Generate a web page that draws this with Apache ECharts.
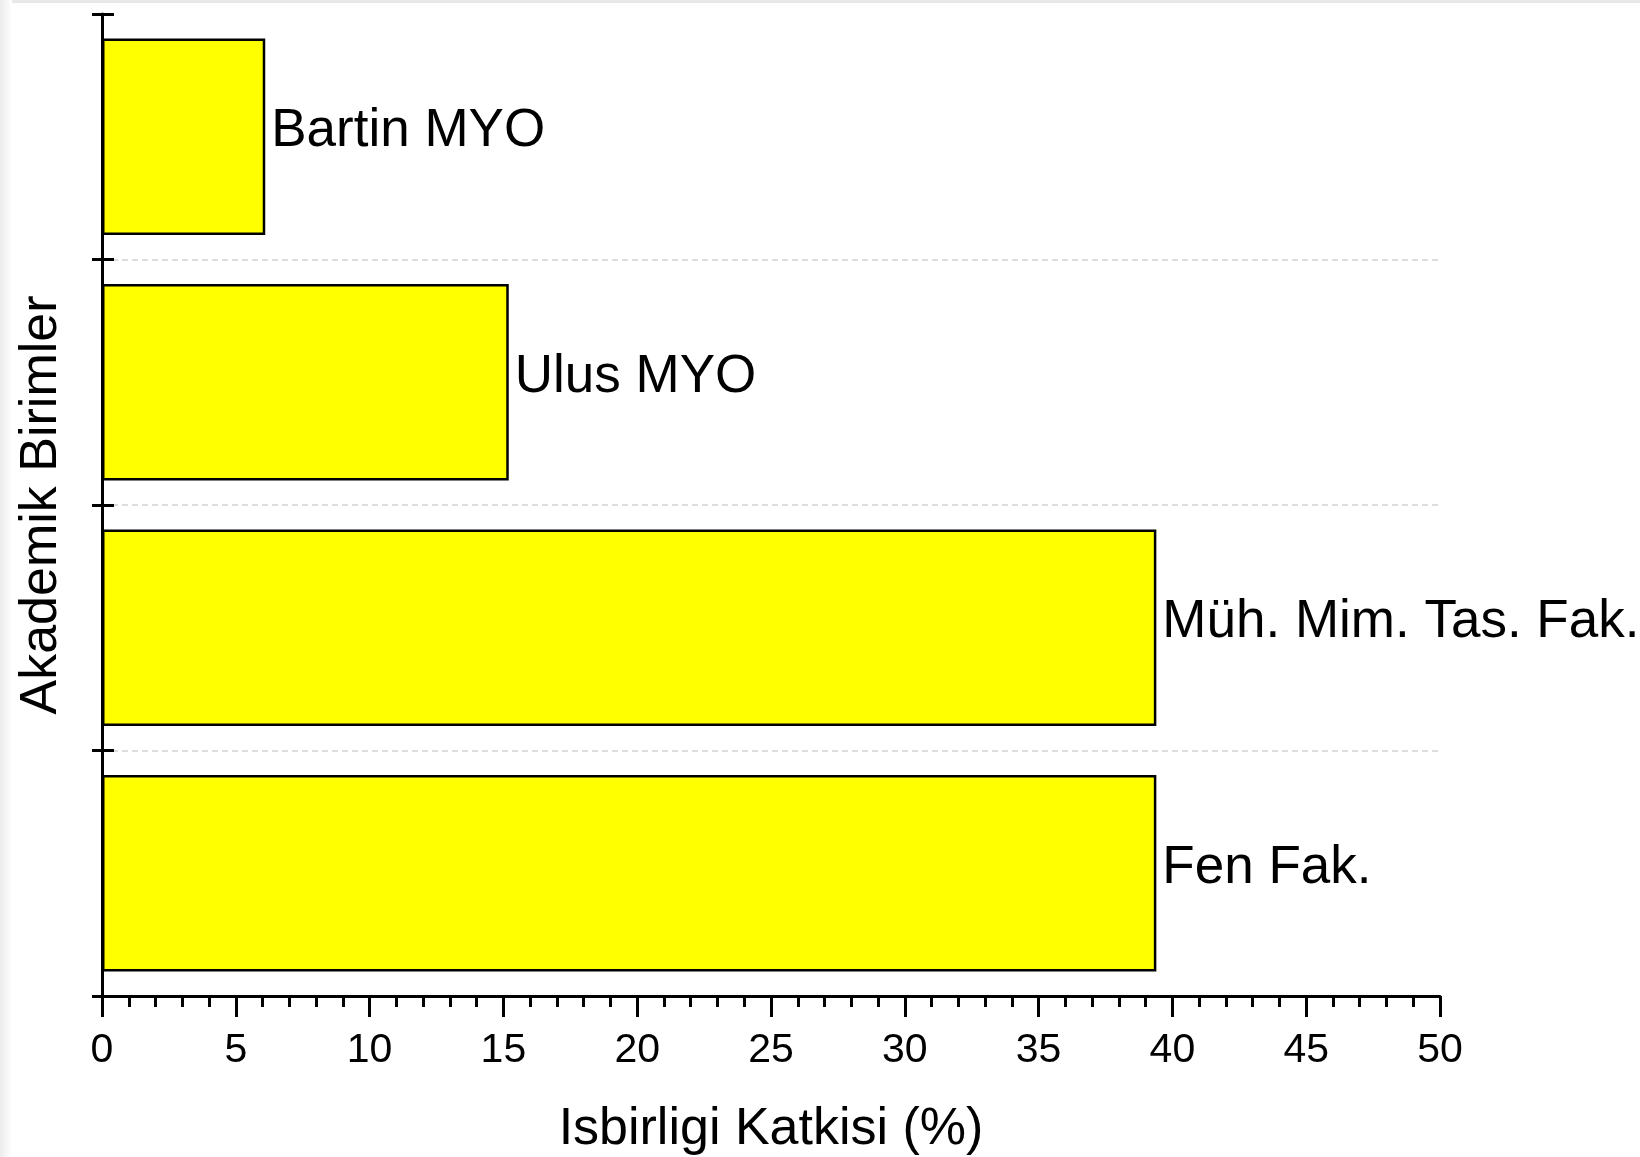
<!DOCTYPE html>
<html lang="tr">
<head>
    <meta charset="UTF-8">
    <title>Isbirligi Katkisi</title>
    <style>
        html, body { margin: 0; padding: 0; background: #fff; }
        #wrap { position: relative; width: 1640px; height: 1157px; }
        #main { width: 1640px; height: 1157px; }
        /* ekran goruntusundeki soluk cerceve */
        #wrap:before { content: ''; position: absolute; left: 0; top: 0; width: 1640px; height: 3px; background: #e8e8e8; z-index: 2; }
        #wrap:after { content: ''; position: absolute; left: 0; top: 0; width: 12px; height: 1157px; background: linear-gradient(to right, #ececec, #fff); z-index: 2; }
    </style>
</head>
<body>
<div id="wrap"><div id="main"></div></div>
<script src="https://cdn.jsdelivr.net/npm/echarts@6/dist/echarts.min.js"></script>
<script>
    // veriler (alttan uste)
    var units = ['Fen Fak.', 'Müh. Mim. Tas. Fak.', 'Ulus MYO', 'Bartin MYO'];
    var katki = [39.4, 39.4, 15.2, 6.1];
    var xTicks = [0, 5, 10, 15, 20, 25, 30, 35, 40, 45, 50];

    var font = 'Liberation Sans, Arial, sans-serif';
    var chart = echarts.init(document.getElementById('main'));

    var option = {
        backgroundColor: '#fff',
        animation: false,
        grid: { left: 102, right: 200, top: 14, bottom: 161, outerBoundsMode: 'none', containLabel: false },
        xAxis: {
            type: 'value',
            min: xTicks[0],
            max: xTicks[xTicks.length - 1],
            interval: 5,
            name: 'Isbirligi Katkisi (%)',
            nameLocation: 'middle',
            nameGap: 108,
            nameTextStyle: { fontSize: 52, color: '#000', fontFamily: font },
            axisLine: { show: true, lineStyle: { color: '#000', width: 3 } },
            axisTick: { show: true, length: 21, lineStyle: { color: '#000', width: 3 } },
            minorTick: { show: true, splitNumber: 5, length: 11, lineStyle: { color: '#000', width: 3 } },
            axisLabel: { fontSize: 41, color: '#000', fontFamily: font, margin: 34 },
            splitLine: { show: false }
        },
        yAxis: [
            {
                type: 'category',
                data: units,
                position: 'left',
                name: 'Akademik Birimler',
                nameLocation: 'middle',
                nameGap: 34,
                nameTextStyle: { fontSize: 52, color: '#000', fontFamily: font },
                axisLine: { show: true, lineStyle: { color: '#000', width: 3 } },
                axisTick: { show: true, length: 10, lineStyle: { color: '#000', width: 3 } },
                axisLabel: { show: false },
                splitLine: {
                    show: true,
                    showMinLine: false,
                    showMaxLine: false,
                    lineStyle: { color: '#d2d2d2', type: [6, 4], width: 1.5 }
                }
            },
            {
                // ic tarafa dogru tikler
                type: 'category',
                data: units,
                position: 'left',
                offset: 0,
                axisLine: { show: false },
                axisTick: { show: true, inside: true, length: 12, lineStyle: { color: '#000', width: 3 } },
                axisLabel: { show: false },
                splitLine: { show: false }
            }
        ],
        series: [
            {
                type: 'bar',
                yAxisIndex: 0,
                data: katki,
                barCategoryGap: '20%',
                itemStyle: { color: '#ffff00', borderColor: '#000', borderWidth: 2.5 },
                label: {
                    show: true,
                    position: 'right',
                    distance: 6,
                    offset: [0, -5],
                    formatter: '{b}',
                    fontSize: 53,
                    color: '#000',
                    fontFamily: font
                }
            }
        ]
    };
    option && chart.setOption(option);
</script>
</body>
</html>
